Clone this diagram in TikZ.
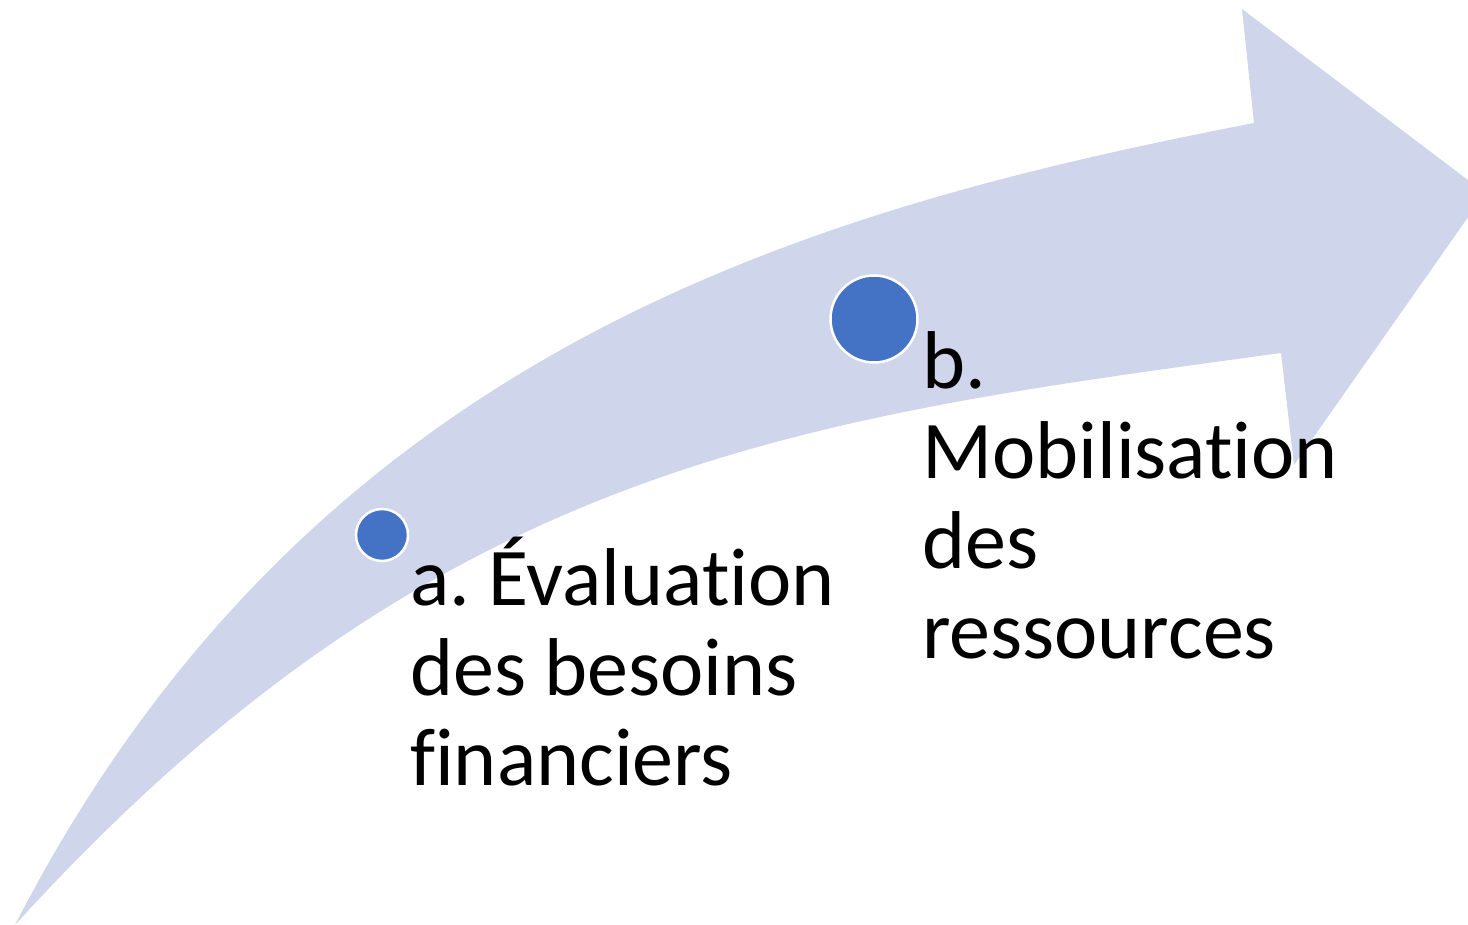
\documentclass[tikz,border=0pt]{standalone}
\usepackage{fontspec}
\setmainfont{Carlito}[RawFeature=-liga]
\definecolor{arrowfill}{HTML}{CFD5EA}
\definecolor{dotblue}{HTML}{4472C4}
\tikzset{
  dot/.style={circle, fill=dotblue, draw=white, line width=2.5pt, inner sep=0pt},
  steptext/.style={anchor=base west, align=left, inner sep=0pt, font=\fontsize{82}{90}\selectfont\frenchspacing, text=black}
}
\begin{document}
\begin{tikzpicture}[x=1pt,y=-1pt]
\useasboundingbox (0,0) rectangle (1468,925);
\clip (0,0) rectangle (1468,925);
% curved arrow
\fill[arrowfill] (15,925)
  .. controls (312,347) and (811,209) .. (1254,123)
  -- (1242,9) -- (1485,193) -- (1294,465) -- (1281,353)
  .. controls (798,419) and (435,463) .. (15,925) -- cycle;
% dots
\node[dot, minimum size=52pt] (ca) at (382,535) {};
\node[dot, minimum size=87pt] (cb) at (874,319) {};
% labels (anchor = baseline of the last line)
\node[steptext] (ta) at (410,785) {a. Évaluation\\des besoins\\financiers};
\node[steptext] (tb) at (922,658) {b.\\Mobilisation\\des\\ressources};
\end{tikzpicture}
\end{document}
